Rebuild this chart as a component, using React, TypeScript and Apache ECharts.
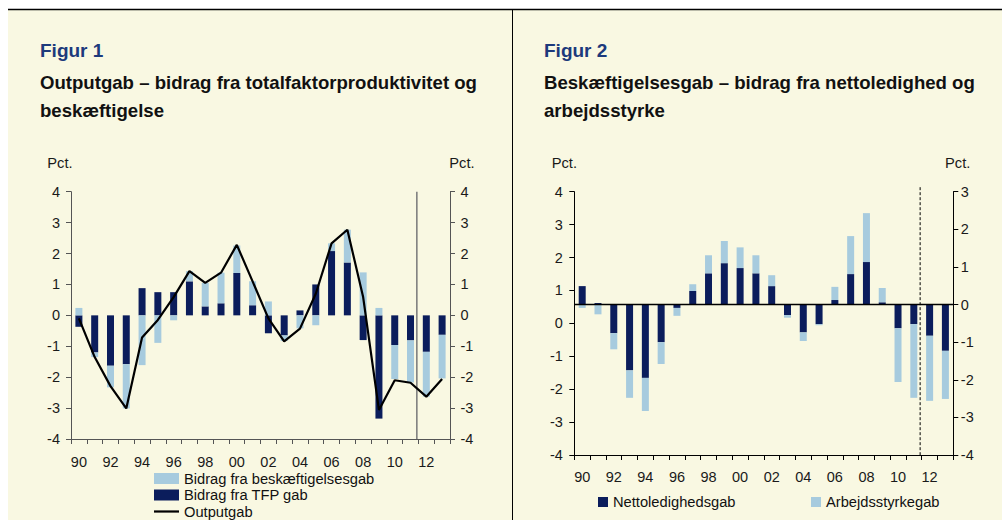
import React, { useEffect, useRef } from "react";
import * as echarts from "echarts";

const years = ["90","91","92","93","94","95","96","97","98","99","00","01","02","03","04","05","06","07","08","09","10","11","12","13"];

const fig1Tfp = [-0.37, -1.2, -1.63, -1.58, 0.88, 0.75, 0.75, 1.1, 0.29, 0.39, 1.37, 0.33, -0.58, -0.65, 0.16, 1.0, 2.08, 1.71, -0.8, -3.34, -0.96, -0.81, -1.18, -0.63];
const fig1Besk = [0.24, -0.15, -0.7, -1.43, -1.61, -0.89, -0.16, 0.33, 0.76, 0.99, 0.89, 0.77, 0.45, -0.18, -0.42, -0.32, 0.25, 1.06, 1.39, 0.24, -1.1, -1.36, -1.45, -1.41];
const fig1Output = [-0.1, -1.35, -2.29, -3.01, -0.72, -0.15, 0.59, 1.43, 1.05, 1.38, 2.28, 1.1, -0.1, -0.84, -0.43, 0.7, 2.33, 2.77, 0.59, -3.06, -2.1, -2.18, -2.63, -2.06];

const fig2Netto = [0.49, 0.04, -0.76, -1.75, -1.95, -1.0, -0.09, 0.36, 0.83, 1.1, 0.97, 0.83, 0.49, -0.28, -0.74, -0.52, 0.12, 0.81, 1.13, 0.06, -0.63, -0.52, -0.83, -1.23];
const fig2Arb = [-0.09, -0.26, -0.43, -0.73, -0.88, -0.58, -0.21, 0.18, 0.48, 0.59, 0.55, 0.48, 0.29, -0.07, -0.23, -0.03, 0.35, 1.01, 1.3, 0.38, -1.43, -1.96, -1.73, -1.28];

// forecast divider position (in category units from left edge)
const dividerPos = [21.9];

const FONT = '"Liberation Sans", Arial, sans-serif';
const NAVY = "#0b1d5c";
const LIGHT = "#a7cbde";
const CREAM = "#f9f8e2";
const GRAY_AXIS = "#555555";
const TICK_FS = 14.5;
const TEXT_FS = 14.7;
const TITLE_FS = 18.6;

export default function App() {
  const ref = useRef<HTMLDivElement>(null);
  useEffect(() => {
    if (!ref.current) return;
    const chart = echarts.init(ref.current, undefined, { renderer: "svg" });

    const labelStyle = { fontSize: TICK_FS, color: "#1a1a1a", fontFamily: FONT };

    const yAxisBase = (grid: number, pos: "left" | "right", min: number, max: number, color: string, margin: number) => ({
      gridIndex: grid,
      type: "value",
      position: pos,
      min,
      max,
      interval: 1,
      splitLine: { show: false },
      axisLine: { show: true, onZero: false, lineStyle: { color, width: 1 } },
      axisTick: { show: true, inside: false, length: 5, lineStyle: { color, width: 1 } },
      axisLabel: { ...labelStyle, margin },
    });

    const xCat = (grid: number, color: string, margin: number) => ({
      gridIndex: grid,
      type: "category",
      data: years,
      boundaryGap: true,
      axisLine: { show: true, onZero: false, lineStyle: { color, width: 1 } },
      axisTick: { show: true, interval: 0, length: 5, alignWithLabel: false, lineStyle: { color, width: 1 } },
      axisLabel: { ...labelStyle, interval: 1, margin },
      splitLine: { show: false },
    });

    const xVal = (grid: number) => ({
      gridIndex: grid,
      type: "value",
      min: 0,
      max: 24,
      show: false,
      axisLine: { onZero: false },
      splitLine: { show: false },
    });

    const txt = (x: number, y: number, text: string, size: number, weight: string, fill: string) => ({
      type: "text",
      x,
      y,
      z: 10,
      style: { text, fontSize: size, fontWeight: weight, fontFamily: FONT, fill, verticalAlign: "middle", align: "left" },
    });

    const legendText = { fontSize: TEXT_FS, color: "#111", fontFamily: FONT };

    const option: any = {
      animation: false,
      textStyle: { fontFamily: FONT },
      graphic: [
        { type: "rect", z: -10, shape: { x: 8, y: 10, width: 994, height: 510 }, style: { fill: CREAM } },
        { type: "line", z: -5, shape: { x1: 8, y1: 9.5, x2: 1002, y2: 9.5 }, style: { stroke: "#000", lineWidth: 1.5 } },
        { type: "line", z: -5, shape: { x1: 512.5, y1: 9, x2: 512.5, y2: 520 }, style: { stroke: "#000", lineWidth: 1 } },
        txt(40, 50, "Figur 1", 19, "bold", "#1d3a7c"),
        txt(40, 82, "Outputgab – bidrag fra totalfaktorproduktivitet og", TITLE_FS, "bold", "#111"),
        txt(40, 110, "beskæftigelse", TITLE_FS, "bold", "#111"),
        txt(544, 50, "Figur 2", 19, "bold", "#1d3a7c"),
        txt(544, 82, "Beskæftigelsesgab – bidrag fra nettoledighed og", TITLE_FS, "bold", "#111"),
        txt(544, 110, "arbejdsstyrke", TITLE_FS, "bold", "#111"),
        txt(47.3, 163, "Pct.", TEXT_FS, "normal", "#1a1a1a"),
        txt(449.3, 163, "Pct.", TEXT_FS, "normal", "#1a1a1a"),
        txt(551.7, 163, "Pct.", TEXT_FS, "normal", "#1a1a1a"),
        txt(945, 163, "Pct.", TEXT_FS, "normal", "#1a1a1a"),
      ],
      grid: [
        { left: 71, top: 191.7, width: 379, height: 247.3 },
        { left: 574.3, top: 191.7, width: 379, height: 263.3 },
      ],
      xAxis: [xCat(0, GRAY_AXIS, 15), xVal(0), xCat(1, "#000", 14.5), xVal(1)],
      yAxis: [
        yAxisBase(0, "left", -4, 4, GRAY_AXIS, 11),
        yAxisBase(0, "right", -4, 4, GRAY_AXIS, 10.5),
        yAxisBase(1, "left", -4, 4, "#000", 11.5),
        yAxisBase(1, "right", -4, 3, "#000", 7.5),
      ],
      legend: [
        {
          left: 154,
          top: 471,
          orient: "vertical",
          padding: 0,
          itemWidth: 25,
          itemHeight: 11,
          itemGap: 1.5,
          selectedMode: false,
          textStyle: legendText,
          data: [
            { name: "Bidrag fra beskæftigelsesgab", icon: "rect" },
            { name: "Bidrag fra TFP gab", icon: "rect" },
            { name: "Outputgab", icon: "path://M0,0H27V2.4H0Z", itemStyle: { color: "#000" } },
          ],
        },
        {
          left: 598,
          top: 494.5,
          padding: 0,
          itemWidth: 10,
          itemHeight: 10,
          selectedMode: false,
          textStyle: legendText,
          data: [{ name: "Nettoledighedsgab", icon: "rect" }],
        },
        {
          left: 811,
          top: 494.5,
          padding: 0,
          itemWidth: 10,
          itemHeight: 10,
          selectedMode: false,
          textStyle: legendText,
          data: [{ name: "Arbejdsstyrkegab", icon: "rect" }],
        },
      ],
      series: [
        {
          name: "Bidrag fra TFP gab",
          type: "bar",
          xAxisIndex: 0,
          yAxisIndex: 0,
          stack: "fig1",
          barWidth: 7,
          data: fig1Tfp,
          itemStyle: { color: NAVY },
        },
        {
          name: "Bidrag fra beskæftigelsesgab",
          type: "bar",
          xAxisIndex: 0,
          yAxisIndex: 0,
          stack: "fig1",
          barWidth: 7,
          data: fig1Besk,
          itemStyle: { color: LIGHT },
        },
        {
          name: "Outputgab",
          type: "line",
          xAxisIndex: 0,
          yAxisIndex: 0,
          data: fig1Output,
          symbol: "none",
          showSymbol: false,
          z: 5,
          color: "#000",
          lineStyle: { color: "#000", width: 2.2 },
        },
        {
          name: "divider1",
          type: "line",
          xAxisIndex: 1,
          yAxisIndex: 0,
          silent: true,
          symbol: "none",
          data: [[dividerPos[0], 4], [dividerPos[0], -4]],
          lineStyle: { color: "#808080", width: 1.6 },
          z: 1,
        },
        {
          name: "Nettoledighedsgab",
          type: "bar",
          xAxisIndex: 2,
          yAxisIndex: 3,
          stack: "fig2",
          barWidth: 7,
          data: fig2Netto,
          itemStyle: { color: NAVY },
          markLine: {
            silent: true,
            symbol: "none",
            label: { show: false },
            lineStyle: { color: "#000", width: 1.3, type: "solid" },
            data: [{ yAxis: 0 }],
          },
        },
        {
          name: "Arbejdsstyrkegab",
          type: "bar",
          xAxisIndex: 2,
          yAxisIndex: 3,
          stack: "fig2",
          barWidth: 7,
          data: fig2Arb,
          itemStyle: { color: LIGHT },
        },
        {
          name: "divider2",
          type: "line",
          xAxisIndex: 3,
          yAxisIndex: 3,
          silent: true,
          clip: false,
          symbol: "none",
          data: [[dividerPos[0], 3.12], [dividerPos[0], -4]],
          lineStyle: { color: "#000", width: 1, type: [3, 2] },
          z: 1,
        },
      ],
    };

    chart.setOption(option);
    return () => chart.dispose();
  }, []);

  return (
    <div
      ref={ref}
      style={{ position: "absolute", left: 0, top: 0, width: 1002, height: 520, background: "#fff" }}
    />
  );
}
